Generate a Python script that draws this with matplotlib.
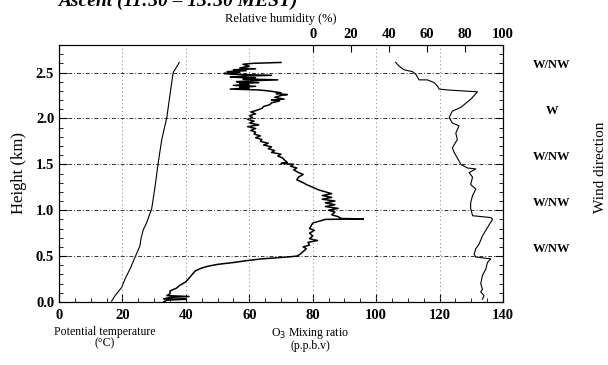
import matplotlib
matplotlib.use("Agg")
import matplotlib.pyplot as plt
from matplotlib.ticker import MultipleLocator
import matplotlib.transforms as mtransforms

# ---------------- data ----------------
temp_height = [0.01, 0.07, 0.16, 0.25, 0.36, 0.49, 0.61, 0.70, 0.79, 0.86, 0.90, 0.94,
               1.01, 1.26, 1.52, 1.77, 2.01, 2.26, 2.50, 2.59, 2.61]
temp_value = [16.6, 17.7, 19.8, 20.8, 22.4, 24.0, 25.5, 25.9, 26.6, 27.6, 28.0, 28.4,
              29.2, 30.3, 31.3, 32.4, 34.0, 35.0, 36.0, 37.6, 37.9]

o3_height = [0.00, 0.02, 0.03, 0.035, 0.05, 0.06, 0.07, 0.09, 0.12, 0.15, 0.18, 0.22,
             0.26, 0.30, 0.34, 0.37, 0.39, 0.41, 0.43, 0.45, 0.47, 0.48, 0.49, 0.50,
             0.52, 0.55, 0.58, 0.60, 0.62, 0.65, 0.67, 0.69, 0.72, 0.75, 0.78, 0.80,
             0.83, 0.86, 0.88, 0.90, 0.905, 0.91, 0.93, 0.95, 0.98, 1.00, 1.02, 1.04,
             1.06, 1.08, 1.10, 1.12, 1.14, 1.16, 1.18, 1.20, 1.22, 1.25, 1.28, 1.30,
             1.33, 1.36, 1.39, 1.41, 1.44, 1.46, 1.48, 1.50, 1.51, 1.52, 1.55, 1.57,
             1.59, 1.61, 1.63, 1.65, 1.67, 1.69, 1.71, 1.73, 1.75, 1.77, 1.79, 1.81,
             1.83, 1.85, 1.87, 1.89, 1.91, 1.93, 1.95, 1.97, 1.99, 2.01, 2.03, 2.05,
             2.07, 2.09, 2.11, 2.13, 2.15, 2.17, 2.19, 2.20, 2.21, 2.23, 2.25, 2.26,
             2.27, 2.28, 2.30, 2.31, 2.32, 2.33, 2.34, 2.35, 2.36, 2.37, 2.38, 2.39,
             2.40, 2.41, 2.42, 2.43, 2.44, 2.45, 2.46, 2.47, 2.48, 2.49, 2.50, 2.51,
             2.52, 2.53, 2.54, 2.55, 2.57, 2.59, 2.60, 2.61]
o3_value = [33, 34, 40, 33, 35, 41, 34, 35, 35, 37, 38, 40,
            41, 42, 43, 45, 47, 50, 55, 59, 64, 68, 72, 75,
            76, 77, 78, 77, 79, 78.5, 81.5, 79, 80, 79, 80.5, 79,
            79.5, 80, 82, 84, 96, 89, 88, 86, 87, 85, 88, 84,
            87, 84, 87, 83, 86, 83, 86, 84, 82, 80, 78, 77,
            75, 75.5, 77, 75.5, 74, 75, 73, 74, 70, 72, 71, 70.5,
            69, 70, 67, 68, 66, 67, 64.5, 66, 63.5, 64, 62, 63.5,
            61.5, 62, 60.5, 62, 59.5, 63, 60, 61.5, 59.5, 61, 60, 62,
            60.5, 62.5, 64, 64.5, 66.5, 67, 69.5, 67, 71, 68, 70, 72,
            68.5, 70, 66, 63, 54, 60, 57, 62, 55, 60, 57, 63,
            56, 60, 69, 58, 62, 54, 58, 67, 55, 52, 57, 53,
            59, 55, 62, 57, 60, 58, 61, 70]

rh_height = [0.03, 0.07, 0.11, 0.14, 0.20, 0.29, 0.36, 0.43, 0.47, 0.49, 0.52, 0.58,
             0.63, 0.72, 0.81, 0.90, 0.92, 0.94, 1.02, 1.08, 1.16, 1.23, 1.28, 1.36,
             1.41, 1.45, 1.46, 1.50, 1.57, 1.63, 1.68, 1.77, 1.84, 1.92, 1.95, 2.01,
             2.08, 2.12, 2.21, 2.29, 2.31, 2.32, 2.35, 2.39, 2.42, 2.42, 2.48, 2.51,
             2.53, 2.57, 2.61]
rh_value = [89.2, 90.0, 88.3, 89.2, 88.3, 89.2, 91.0, 91.8, 93.6, 85.7, 84.8, 85.7,
            87.4, 89.2, 91.8, 94.5, 93.6, 84.0, 83.0, 83.0, 84.0, 85.7, 83.0, 84.0,
            82.2, 85.7, 81.3, 77.8, 76.0, 74.3, 73.4, 76.0, 75.2, 76.9, 73.4, 71.7,
            73.4, 77.8, 83.1, 86.6, 70.8, 66.4, 65.6, 63.8, 60.3, 55.9, 54.2, 52.4,
            48.0, 45.4, 43.6]

bottom_ticks = [0, 20, 40, 60, 80, 100, 120, 140]
rh_ticks = [0, 20, 40, 60, 80, 100]
height_ticks = [0.0, 0.5, 1.0, 1.5, 2.0, 2.5]
wind_heights = [2.58, 2.08, 1.58, 1.08, 0.58]
wind_labels = ["W/NW", "W", "W/NW", "W/NW", "W/NW"]

# ---------------- plot ----------------
serif = ["Liberation Serif", "DejaVu Serif"]
plt.rcParams["font.family"] = serif

fig = plt.figure(figsize=(6.08, 3.65), dpi=100)
ax = fig.add_axes([59 / 608, 1 - 302 / 365, 444 / 608, 257 / 365])

ax.plot(temp_value, temp_height, color="black", lw=0.8)
ax.plot(o3_value, o3_height, color="black", lw=1.1)

ax.set_xlim(0, 140)
ax.set_ylim(0, 2.8)
ax.set_xticks(bottom_ticks)
ax.set_yticks(height_ticks)
ax.set_yticklabels([f"{v:.1f}" for v in height_ticks])
ax.xaxis.set_minor_locator(MultipleLocator(5))
ax.yaxis.set_minor_locator(MultipleLocator(0.1))
ax.tick_params(axis="both", which="both", direction="in", top=False, right=True,
               labelsize=10.5)
ax.tick_params(which="major", length=6)
ax.tick_params(which="minor", length=3)
ax.tick_params(axis="x", pad=5)
for lab in ax.get_xticklabels() + ax.get_yticklabels():
    lab.set_fontweight("bold")

for h in height_ticks[1:]:
    ax.axhline(h, color="black", lw=0.7, ls=(0, (4, 2, 1, 2)), alpha=0.8)
for v in bottom_ticks[1:-1]:
    ax.axvline(v, color="gray", lw=0.7, ls=(0, (1, 3)))

ax.set_ylabel("Height (km)", fontsize=12, labelpad=6)

ax2 = ax.twiny()
ax2.plot(rh_value, rh_height, color="black", lw=0.8)
ax2.set_xlim(-400 / 3, 100)
ax2.set_xticks(rh_ticks)
ax2.tick_params(axis="x", direction="in", length=5, labelsize=10.5, pad=3)
for lab in ax2.get_xticklabels():
    lab.set_fontweight("bold")
ax2.set_xlabel("Relative humidity (%)", fontsize=9, labelpad=4)

trans = mtransforms.blended_transform_factory(fig.transFigure, ax.transData)
for h, lab in zip(wind_heights, wind_labels):
    ax.text(552 / 608, h, lab, transform=trans, ha="center", va="center",
            fontsize=9, fontweight="bold")
fig.text(601 / 608, 1 - 167 / 365, "Wind direction", rotation=90,
         ha="center", va="center", fontsize=11)

fig.text(105 / 608, 1 - 338 / 365, "Potential temperature\n(°C)", ha="center",
         va="center", fontsize=8.5, linespacing=0.95)
fig.text(310 / 608, 1 - 339 / 365, "O$_3$ Mixing ratio\n(p.p.b.v)", ha="center",
         va="center", fontsize=8.5, linespacing=0.95)

fig.text(58 / 608, 1 - 6 / 365, "Ascent (11:30 – 13:30 MEST)", ha="left",
         va="baseline", fontsize=14, fontweight="bold", fontstyle="italic")

fig.savefig("out.png", dpi=100)
